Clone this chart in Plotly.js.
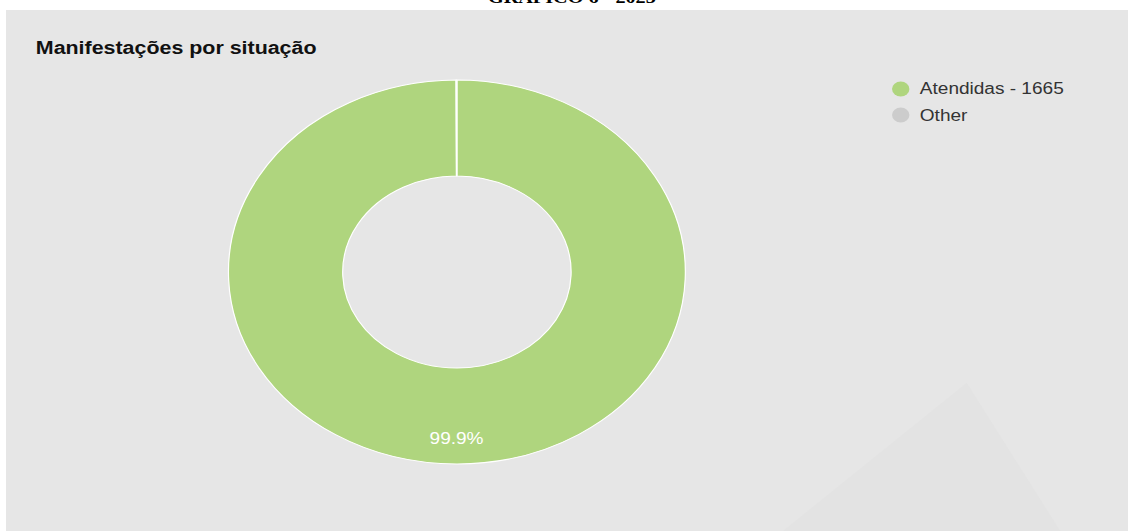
<!DOCTYPE html>
<html>
<head>
<meta charset="utf-8">
<script src="https://cdn.plot.ly/plotly-3.0.1.min.js"></script>
<style>
  html, body { margin: 0; padding: 0; background: #ffffff; overflow: hidden; }
  #wrap { width: 1128px; height: 531px; overflow: hidden; position: relative; }
  #plot { width: 948px; height: 531px; transform: scaleX(1.1899); transform-origin: 0 0; }
</style>
</head>
<body>
<div id="wrap"><div id="plot"></div></div>
<script>
const categories = ["Atendidas", "Other"];
const values = [1665, 1];
const colors = ["#afd57e", "#cccccc"];
const chartTitle = "Manifestações por situação";
const headerTitle = "GRÁFICO 6 - 2023";

const labels = categories.map((c, i) => i === 0 ? c + " - " + values[i] : c);
const total = values.reduce((a, b) => a + b, 0);
const pctText = (100 * values[0] / total).toFixed(1) + "%";

const trace = {
  type: "pie",
  labels: labels,
  values: values,
  hole: 0.5,
  sort: false,
  direction: "clockwise",
  rotation: 0,
  marker: { colors: colors, line: { color: "#ffffff", width: 1 } },
  textinfo: "none",
  showlegend: false,
  domain: { x: [0.2025, 0.6076], y: [0.1262, 0.8493] },
  hoverinfo: "label+percent"
};

// legend built from the data arrays
const legendX = 0.7985, legendTextX = 0.8135;
const legendY0 = 0.8324, legendStep = 0.049;
const legendShapes = categories.map((c, i) => ({
  type: "circle", xref: "paper", yref: "paper",
  xsizemode: "pixel", ysizemode: "pixel",
  xanchor: legendX, yanchor: legendY0 - i * legendStep,
  x0: -7.3, x1: 7.3, y0: -7.4, y1: 7.4,
  fillcolor: colors[i], line: { width: 0 }
}));
const legendAnns = labels.map((l, i) => ({
  text: l, xref: "paper", yref: "paper", x: legendTextX, y: legendY0 - i * legendStep,
  xanchor: "left", yanchor: "middle", showarrow: false,
  font: { size: 16, color: "#333333", family: "Liberation Sans, Arial, sans-serif" }
}));

const layout = {
  width: 948,
  height: 531,
  margin: { l: 0, r: 0, t: 0, b: 0 },
  paper_bgcolor: "#ffffff",
  font: { family: "Liberation Sans, Arial, sans-serif", color: "#333333" },
  showlegend: false,
  shapes: [
    { type: "rect", xref: "paper", yref: "paper", x0: 0.0053, x1: 1.01, y0: -0.01, y1: 0.981,
      fillcolor: "#e6e6e6", line: { width: 0 }, layer: "below" },
    { type: "path", xref: "paper", yref: "paper",
      path: "M 0.694 0 L 0.857 0.279 L 0.94 0 Z",
      fillcolor: "#e3e3e3", line: { width: 0 }, layer: "below" }
  ].concat(legendShapes),
  annotations: [
    { text: "<b>" + chartTitle + "</b>", xref: "paper", yref: "paper", x: 0.0298, y: 0.909,
      xanchor: "left", yanchor: "middle", showarrow: false,
      font: { size: 18, color: "#111111", family: "Liberation Sans, Arial, sans-serif" } },
    { text: "<b>" + headerTitle + "</b>", xref: "paper", yref: "paper", x: 0.507, y: 1.004,
      xanchor: "center", yanchor: "middle", showarrow: false,
      font: { size: 17, color: "#000000", family: "Liberation Serif, Times New Roman, serif" } },
    { text: pctText, xref: "paper", yref: "paper", x: 0.405, y: 0.175,
      xanchor: "center", yanchor: "middle", showarrow: false,
      font: { size: 16, color: "#ffffff", family: "Liberation Sans, Arial, sans-serif" } }
  ].concat(legendAnns)
};

Plotly.newPlot("plot", [trace], layout, { displayModeBar: false, staticPlot: true });
</script>
</body>
</html>
